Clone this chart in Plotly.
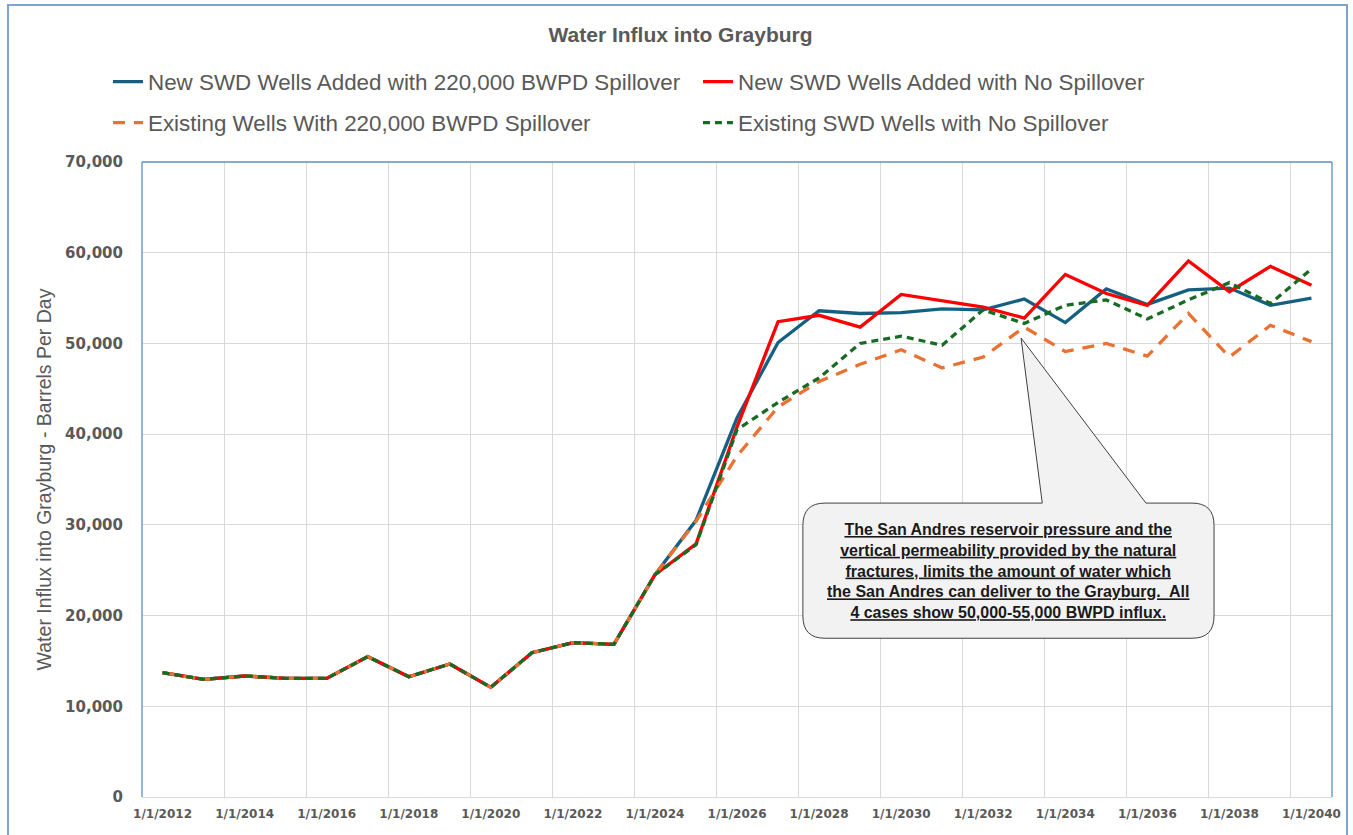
import pandas as pd
import plotly.graph_objects as go

# Annual points, 1/1/2012 through 1/1/2040
dates = pd.date_range("2012-01-01", "2040-01-01", freq="YS")

history = [13700, 12970, 13340, 13080, 13080, 15470, 13260, 14660, 12090, 15910, 17010, 16830]

new_swd_spill = history + [24500, 30500, 41800, 50100, 53600, 53300, 53400, 53800, 53700,
                           54900, 52300, 56000, 54300, 55900, 56100, 54200, 55000]
new_swd_nospill = history + [24500, 27900, 40800, 52400, 53100, 51800, 55400, 54700, 54000,
                             52800, 57600, 55500, 54200, 59100, 55700, 58500, 56400]
existing_spill = history + [24500, 30400, 37600, 43000, 45800, 47700, 49300, 47300, 48500,
                            51800, 49100, 50000, 48600, 53300, 48500, 52000, 50200]
existing_nospill = history + [24500, 27800, 40500, 43500, 46200, 50000, 50800, 49800, 53700,
                              52200, 54200, 54800, 52700, 54800, 56700, 54400, 58200]

series_names = [
    "New SWD Wells Added with 220,000 BWPD Spillover",
    "New SWD Wells Added with No Spillover",
    "Existing Wells With 220,000 BWPD Spillover",
    "Existing SWD Wells with No Spillover",
]
series_values = [new_swd_spill, new_swd_nospill, existing_spill, existing_nospill]
series_colors = ["#156082", "#FF0000", "#E97132", "#196B24"]
series_dash = ["solid", "solid", "12px,9px", "7px,5px"]
series_legend = ["legend", "legend", "legend2", "legend2"]

callout_text = [
    "The San Andres reservoir pressure and the",
    "vertical permeability provided by the natural",
    "fractures, limits the amount of water which",
    "the San Andres can deliver to the Grayburg.  All",
    "4 cases show 50,000-55,000 BWPD influx.",
]

GREY = "#595959"
GRID = "#d9d9d9"
SANS = "Liberation Sans, Arial, sans-serif"

fig = go.Figure()
for name, vals, col, dash, lg in zip(series_names, series_values, series_colors,
                                      series_dash, series_legend):
    fig.add_trace(go.Scatter(
        x=dates, y=vals, name=name, mode="lines",
        line=dict(color=col, width=3.3, dash=dash),
        legend=lg,
    ))

# gridlines sit halfway between yearly points, every second year
mids = dates[:-1] + (dates[1:] - dates[:-1]) / 2
grid_x = list(mids[1::2])
half = (dates[1] - dates[0]) / 2

fig.update_xaxes(
    range=[dates[0] - half, dates[-1] + half],
    tickvals=list(dates[::2]),
    tickformat="%-m/%-d/%Y",
    tickfont=dict(family="DejaVu Sans", size=12, color=GREY, weight="bold"),
    showgrid=False,
    minor=dict(tickvals=grid_x, showgrid=True, gridcolor=GRID, gridwidth=1, ticks=""),
    showline=True, linecolor=GRID, linewidth=1,
    ticks="", ticklabelstandoff=6,
    zeroline=False,
)
fig.update_yaxes(
    range=[0, 70000], dtick=10000, tickformat=",",
    tickfont=dict(family="DejaVu Sans", size=15, color=GREY, weight="bold"),
    showgrid=True, gridcolor=GRID, gridwidth=1,
    ticks="", ticklabelstandoff=18, zeroline=False,
    title=dict(text="Water Influx into Grayburg - Barrels Per Day",
               font=dict(family=SANS, size=19.5, color=GREY), standoff=8),
)

# plot-area frame: blue on left, top and right
frame = dict(type="line", xref="paper", yref="paper", line=dict(color="#5b8fc2", width=1.3))
fig.add_shape(**frame, x0=0, x1=0, y0=0, y1=1)
fig.add_shape(**frame, x0=0, x1=1, y0=1, y1=1)
fig.add_shape(**frame, x0=1, x1=1, y0=0, y1=1)
# outer chart border
fig.add_shape(type="rect", xref="paper", yref="paper",
              x0=-0.1126, x1=1.0126, y0=-0.08, y1=1.2472,
              line=dict(color="#7ea6cc", width=2), layer="below")

# callout box with pointer to the 2033 values
bx0, bx1 = pd.Timestamp("2027-08-10"), pd.Timestamp("2037-08-17")
by0, by1 = 17500, 32400
rx = pd.Timedelta(days=196)
ry = 2450
w0, w1 = pd.Timestamp("2033-06-10"), pd.Timestamp("2035-12-20")
tip_x, tip_y = pd.Timestamp("2032-12-03"), 50600


def d(t):
    # date-axis path coordinates use "_" in place of the space
    return t.strftime("%Y-%m-%d_%H:%M:%S")


path = (
    f"M{d(bx0 + rx)},{by1}L{d(w0)},{by1}L{d(tip_x)},{tip_y}L{d(w1)},{by1}"
    f"L{d(bx1 - rx)},{by1}Q{d(bx1)},{by1} {d(bx1)},{by1 - ry}"
    f"L{d(bx1)},{by0 + ry}Q{d(bx1)},{by0} {d(bx1 - rx)},{by0}"
    f"L{d(bx0 + rx)},{by0}Q{d(bx0)},{by0} {d(bx0)},{by0 + ry}"
    f"L{d(bx0)},{by1 - ry}Q{d(bx0)},{by1} {d(bx0 + rx)},{by1}Z"
)
fig.add_shape(type="path", path=path, xref="x", yref="y",
              fillcolor="#f2f2f2", line=dict(color="#404040", width=1), layer="above")

fig.add_annotation(
    x=bx0 + (bx1 - bx0) / 2, y=24950, xref="x", yref="y", showarrow=False,
    text="<br>".join(f'<span style="text-decoration:underline">{t}</span>' for t in callout_text),
    align="center",
    font=dict(family=SANS, size=16, color="#1a1a1a", weight="bold"),
)

legend_common = dict(
    orientation="h", xref="container", yref="container", x=0.0798,
    xanchor="left", yanchor="middle", entrywidth=545, entrywidthmode="pixels",
    font=dict(family=SANS, size=22.4, color=GREY), bgcolor="rgba(0,0,0,0)",
    itemwidth=30,
)

fig.update_layout(
    width=1353, height=835,
    margin=dict(l=142, r=21, t=162, b=38, autoexpand=False),
    paper_bgcolor="white", plot_bgcolor="white",
    title=dict(text="Water Influx into Grayburg", x=0.503, xanchor="center",
               y=1 - 35 / 835, yanchor="middle", yref="container",
               font=dict(family=SANS, size=21, color=GREY, weight="bold")),
    legend=dict(**legend_common, y=1 - 82 / 835),
    legend2=dict(**legend_common, y=1 - 123 / 835),
    showlegend=True,
)

fig.write_html("out.html")
